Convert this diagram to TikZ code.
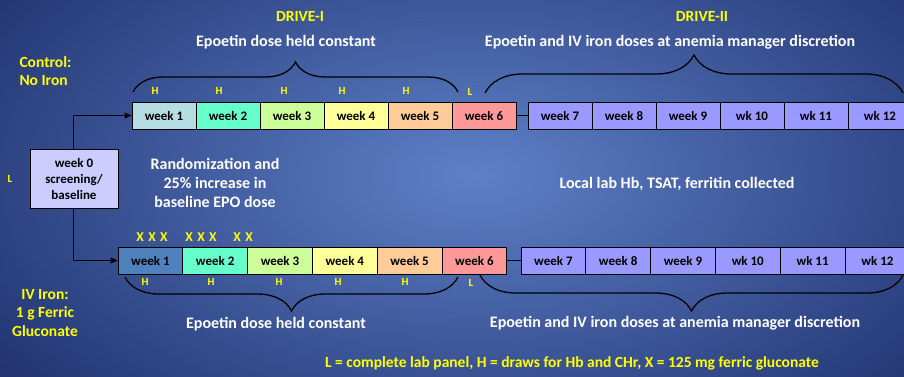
\documentclass[tikz,border=0pt]{standalone}
\usepackage{fontspec}
\setmainfont{Carlito}
\usetikzlibrary{decorations.pathreplacing,arrows.meta}

\definecolor{bgdark}{RGB}{30,48,108}
\definecolor{bglight}{RGB}{94,128,200}
\definecolor{wkone}{RGB}{183,221,228}
\definecolor{wkonebl}{RGB}{79,129,189}
\definecolor{wktwo}{RGB}{102,255,204}
\definecolor{wkthree}{RGB}{204,255,153}
\definecolor{wkfour}{RGB}{255,255,153}
\definecolor{wkfive}{RGB}{255,204,153}
\definecolor{wksix}{RGB}{255,153,153}
\definecolor{wklate}{RGB}{153,153,255}
\definecolor{wkzero}{RGB}{204,204,255}
\definecolor{ylw}{RGB}{255,255,0}

\tikzset{
  wkbox/.style={draw,line width=0.8pt,minimum width=64pt,minimum height=27pt,
    inner sep=0pt,font=\bfseries\fontsize{13}{15}\selectfont},
  ytext/.style={text=ylw,font=\bfseries\fontsize{15.5}{18.5}\selectfont,align=center},
  wtext/.style={text=white,font=\bfseries\fontsize{16}{19}\selectfont,align=center},
  tag/.style={text=ylw,font=\bfseries\fontsize{11}{12}\selectfont,inner sep=0pt},
  bigbrace/.style={decorate,line width=1.3pt,decoration={brace,aspect=0.5,amplitude=#1}}
}

\begin{document}
\begin{tikzpicture}[x=1pt,y=-1pt]

        \useasboundingbox (0,0) rectangle (904,377);
        \begin{scope}
          \clip (0,0) rectangle (904,377);
          \shade[inner color=bglight,outer color=bgdark] (-150,-170) rectangle (1100,520);
        \end{scope}

        % top row: control arm
        \begin{scope}[every node/.style={wkbox}]
          \node[fill=wkone]   (t1)  at (164,115.5) {week 1};
          \node[fill=wktwo]   (t2)  at (228,115.5) {week 2};
          \node[fill=wkthree] (t3)  at (292,115.5) {week 3};
          \node[fill=wkfour]  (t4)  at (356,115.5) {week 4};
          \node[fill=wkfive]  (t5)  at (420,115.5) {week 5};
          \node[fill=wksix]   (t6)  at (484,115.5) {week 6};
          \node[fill=wklate]  (t7)  at (560,115.5) {week 7};
          \node[fill=wklate]  (t8)  at (624,115.5) {week 8};
          \node[fill=wklate]  (t9)  at (688,115.5) {week 9};
          \node[fill=wklate]  (t10) at (752,115.5) {wk 10};
          \node[fill=wklate]  (t11) at (816,115.5) {wk 11};
          \node[fill=wklate]  (t12) at (880,115.5) {wk 12};
        \end{scope}

        % bottom row: iv iron arm
        \begin{scope}[every node/.style={wkbox,minimum width=64.8pt}]
          \node[fill=wkonebl] (b1)  at (150.4,260.5) {week 1};
          \node[fill=wktwo]   (b2)  at (215.2,260.5) {week 2};
          \node[fill=wkthree] (b3)  at (280,260.5)   {week 3};
          \node[fill=wkfour]  (b4)  at (344.8,260.5) {week 4};
          \node[fill=wkfive]  (b5)  at (409.6,260.5) {week 5};
          \node[fill=wksix]   (b6)  at (474.4,260.5) {week 6};
          \node[fill=wklate]  (b7)  at (553.4,260.5) {week 7};
          \node[fill=wklate]  (b8)  at (618.2,260.5) {week 8};
          \node[fill=wklate]  (b9)  at (683,260.5)   {week 9};
          \node[fill=wklate]  (b10) at (747.8,260.5) {wk 10};
          \node[fill=wklate]  (b11) at (812.6,260.5) {wk 11};
          \node[fill=wklate]  (b12) at (877.4,260.5) {wk 12};
        \end{scope}

        \draw[line width=1pt] (t6) -- (t7);
        \draw[line width=1pt] (b6) -- (b7);

        % randomization split
        \coordinate (up) at (73,115.5);
        \coordinate (dn) at (73,260.5);
        \draw[line width=0.9pt] (up) -- (dn);
        \draw[line width=0.9pt,-{Triangle[length=7pt,width=6pt]}] (up) -- (t1);
        \draw[line width=0.9pt,-{Triangle[length=7pt,width=6pt]}] (dn) -- (b1);
        \node[wkbox,fill=wkzero,minimum width=88pt,minimum height=59pt,align=center,
              font=\bfseries\fontsize{13}{16}\selectfont] (w0) at (74,178.5) {week 0\\screening/\\baseline};
        \node[tag] (l0) at (10,179) {L};

        % braces
        \coordinate (ta) at (133,92);  \coordinate (tb) at (458,92);
        \coordinate (tc) at (485,93);  \coordinate (td) at (903,93);
        \coordinate (ba) at (125,277); \coordinate (bb) at (458,277);
        \coordinate (bc) at (480,275); \coordinate (bd) at (903,275);
        \draw[bigbrace=30pt] (ta) -- (tb);
        \draw[bigbrace=38pt] (tc) -- (td);
        \draw[bigbrace=34pt,decoration={mirror}] (ba) -- (bb);
        \draw[bigbrace=36pt,decoration={mirror}] (bc) -- (bd);

        % draw markers
        \begin{scope}[every node/.style={tag}]
          \node (th1) at (155,91) {H};
          \node (th2) at (219,91) {H};
          \node (th3) at (284,91) {H};
          \node (th4) at (342,91) {H};
          \node (th5) at (406,91) {H};
          \node (tl)  at (470,92) {L};
          \node (bh1) at (145,282) {H};
          \node (bh2) at (211,282) {H};
          \node (bh3) at (279,282) {H};
          \node (bh4) at (338,282) {H};
          \node (bh5) at (405,282) {H};
          \node (bl)  at (471,283) {L};
        \end{scope}
        \begin{scope}[every node/.style={tag,font=\bfseries\fontsize{13.5}{14}\selectfont}]
          \node (x1) at (152,237) {X\,\,X\,\,X};
          \node (x2) at (201,237) {X\,\,X\,\,X};
          \node (x3) at (243,237) {X\,\,X};
        \end{scope}

        % labels
        \node[ytext] (d1) at (300,16) {DRIVE-I};
        \node[ytext] (d2) at (702,16) {DRIVE-II};
        \node[wtext] (e1) at (286,42) {Epoetin dose held constant};
        \node[wtext] (e2) at (670,42) {Epoetin and IV iron doses at anemia manager discretion};
        \node[ytext,align=left,anchor=west] (ctl) at (16,71) {Control:\\No Iron};
        \node[ytext] (ivi) at (45,313) {IV Iron:\\1 g Ferric\\Gluconate};
        \node[wtext] (rnd) at (215,183) {Randomization and\\25\% increase in\\baseline EPO dose};
        \node[wtext] (loc) at (677,184) {Local lab Hb, TSAT, ferritin collected};
        \node[wtext] (e3) at (276,324) {Epoetin dose held constant};
        \node[wtext] (e4) at (675,323) {Epoetin and IV iron doses at anemia manager discretion};
        \node[ytext,font=\bfseries\fontsize{15.5}{17}\selectfont] (key) at (572,363)
          {L = complete lab panel, H = draws for Hb and CHr, X = 125 mg ferric gluconate};

      \end{tikzpicture}
\end{document}
